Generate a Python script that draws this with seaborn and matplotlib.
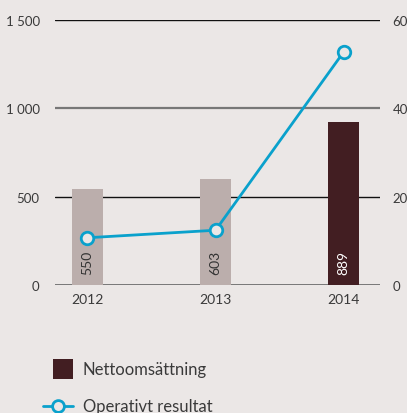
import matplotlib
matplotlib.use("Agg")
import matplotlib.pyplot as plt
import seaborn as sns
from matplotlib.patches import Rectangle
from matplotlib.lines import Line2D

years = ["2012", "2013", "2014"]
net_sales = [545, 597, 923]
bar_labels = ["550", "603", "889"]
operating_result = [10.7, 12.4, 52.7]
left_ticks = [0, 500, 1000, 1500]
left_tick_labels = ["0", "500", "1 000", "1 500"]
right_ticks = [0, 20, 40, 60]
right_tick_labels = ["0", "20", "40", "60"]
legend_labels = ["Nettoomsättning", "Operativt resultat"]

BG = "#ebe7e6"
BAR_LIGHT = "#bbaeac"
BAR_DARK = "#421e22"
LINE = "#0aa1cc"
TXT = "#3a3a3a"

sns.set_theme(style="white")
plt.rcParams["font.family"] = ["Lato", "DejaVu Sans"]

W, H = 407, 414
fig = plt.figure(figsize=(W / 100, H / 100), dpi=100, facecolor=BG)
ax = fig.add_axes([0.135, 0.309, 0.799, 0.641])
ax.set_facecolor(BG)

# grid lines
grid_styles = {0: ("#777777", 1.4), 500: ("#111111", 1.0), 1000: ("#777777", 1.6), 1500: ("#111111", 1.0)}
for t in left_ticks:
    c, lw = grid_styles[t]
    ax.axhline(t, color=c, lw=lw, zorder=0)

colors = [BAR_LIGHT, BAR_LIGHT, BAR_DARK]
sns.barplot(x=years, y=net_sales, hue=years, palette=colors, legend=False,
            width=0.242, ax=ax, saturation=1, zorder=2, linewidth=0, edgecolor="none")
ax.set_xlim(-0.254, 2.285)
ax.set_ylim(0, 1500)

for i, (lab, c) in enumerate(zip(bar_labels, colors)):
    tc = "white" if c == BAR_DARK else "#333333"
    ax.text(i, 62, lab, rotation=90, ha="center", va="bottom", fontsize=10, color=tc, zorder=3)

ax.set_yticks(left_ticks)
ax.set_yticklabels(left_tick_labels)
ax.tick_params(axis="y", length=0, pad=11, labelsize=9.5, labelcolor=TXT)
ax.tick_params(axis="x", length=0, pad=6, labelsize=10, labelcolor=TXT)
for s in ax.spines.values():
    s.set_visible(False)
ax.set_xlabel("")
ax.set_ylabel("")

ax2 = ax.twinx()
sns.lineplot(x=[0, 1, 2], y=operating_result, ax=ax2, color=LINE, lw=2,
             marker="o", markersize=9, markerfacecolor=BG, markeredgecolor=LINE,
             markeredgewidth=2, zorder=4)
ax2.set_ylim(0, 60)
ax2.set_yticks(right_ticks)
ax2.set_yticklabels(right_tick_labels)
ax2.tick_params(axis="y", length=0, pad=9, labelsize=9.5, labelcolor=TXT)
for s in ax2.spines.values():
    s.set_visible(False)
ax2.set_ylabel("")

# manual legend (figure pixel coordinates -> fraction)
def fx(px):
    return px / W

def fy(py):
    return 1 - py / H

fig.add_artist(Rectangle((fx(53), fy(380)), fx(20), 20 / H, transform=fig.transFigure,
                         facecolor=BAR_DARK, edgecolor="none"))
fig.text(fx(83), fy(370), legend_labels[0], fontsize=12, color=TXT, va="center", ha="left")
fig.add_artist(Line2D([fx(43), fx(73)], [fy(407), fy(407)], transform=fig.transFigure,
                      color=LINE, lw=2))
fig.add_artist(Line2D([fx(58)], [fy(407)], transform=fig.transFigure, marker="o",
                      markersize=8.5, markerfacecolor=BG, markeredgecolor=LINE,
                      markeredgewidth=2, lw=0))
fig.text(fx(83), fy(407), legend_labels[1], fontsize=12, color=TXT, va="center", ha="left")

fig.savefig("out.png", dpi=100, facecolor=BG)
